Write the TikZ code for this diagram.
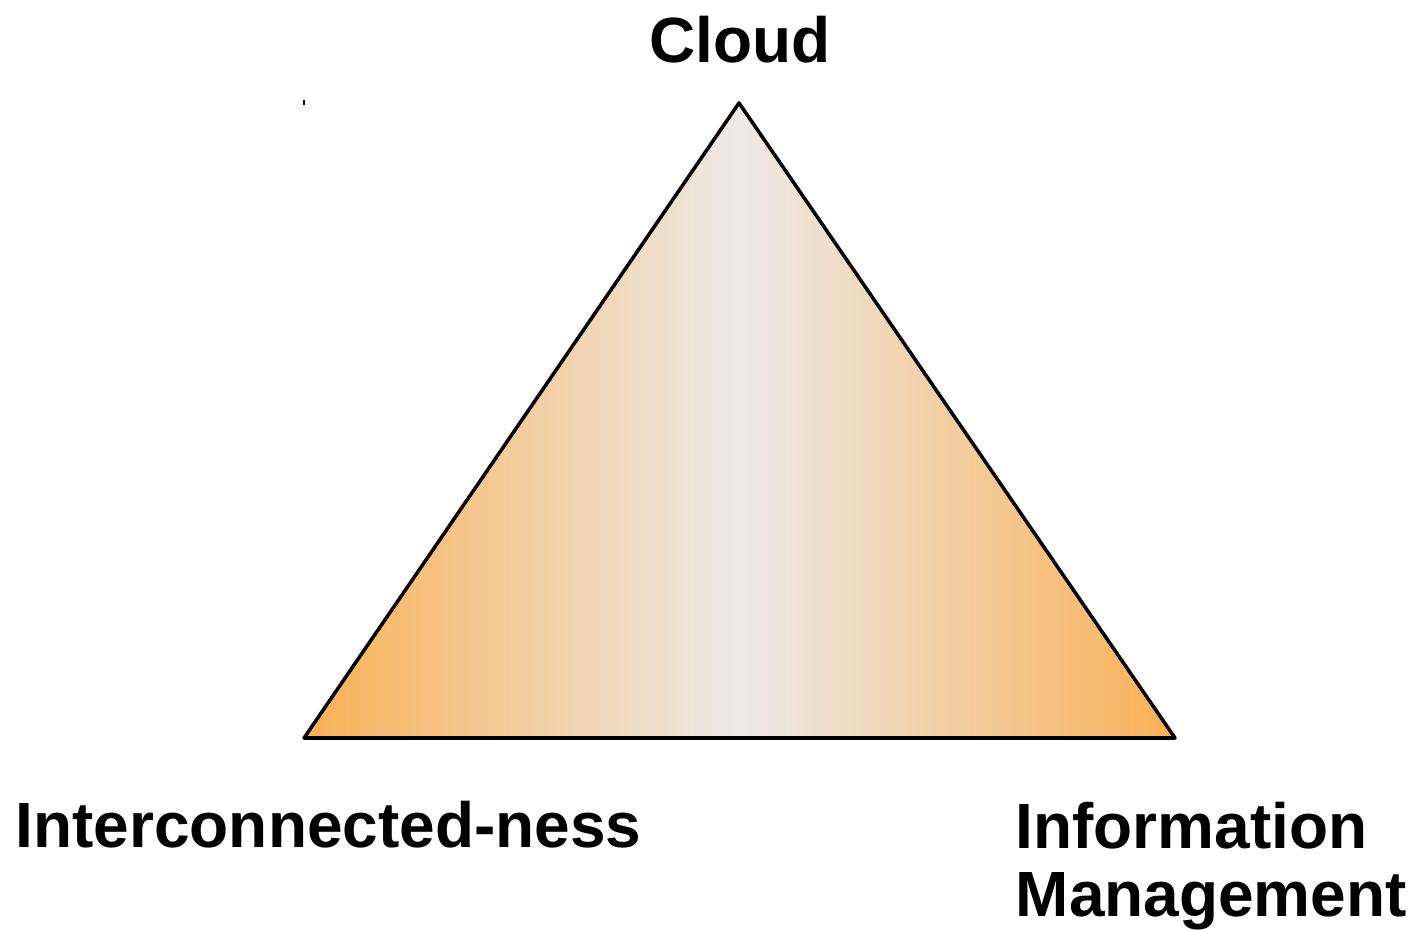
\documentclass[tikz,border=0pt]{standalone}
\usepackage{fontspec}
\setmainfont{Liberation Sans}
\usepackage{xcolor}
\definecolor{ShadeEdge}{HTML}{FAB055}
\definecolor{ShadeCentre}{HTML}{ECEAE8}
\tikzset{
  vertexlabel/.style={font=\fontsize{18.2}{19.6}\selectfont\bfseries, inner sep=0pt, align=left},
}

\begin{document}
\begin{tikzpicture}

\useasboundingbox (0, 0) rectangle (14.12, 9.30);

\coordinate (Top) at (7.39, 8.27);
\coordinate (Left) at (3.04, 1.92);
\coordinate (Right) at (11.75, 1.92);

% Sombreado horizontal: naranja en los extremos, gris claro en el centro.
\shade[left color=ShadeEdge, right color=ShadeEdge, middle color=ShadeCentre]
  (Left) -- (Top) -- (Right) -- cycle;
\draw[line width=1pt, line join=round] (Left) -- (Top) -- (Right) -- cycle;

\draw[line width=0.3pt] (3.04, 8.25) -- (3.04, 8.30);

\node[vertexlabel, anchor=base] (cloud) at (7.40, 8.67) {Cloud};
\node[vertexlabel, anchor=base west] (inter) at (0.15, 0.82) {Interconnected-ness};
\node[vertexlabel, anchor=base west] (info) at (10.15, 0.13) {Information\\Management};

\end{tikzpicture}
\end{document}
